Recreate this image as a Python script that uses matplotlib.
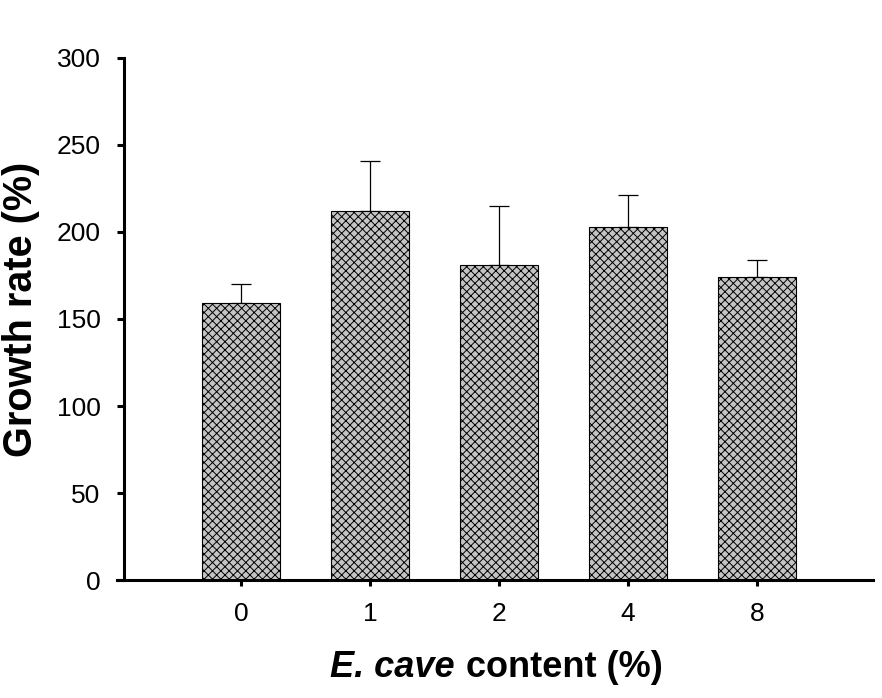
import numpy as np
import matplotlib
matplotlib.use("Agg")
import matplotlib.pyplot as plt

# data
groups = ["0", "1", "2", "4", "8"]
growth = [159, 212, 181, 203, 174]
err_up = [11, 29, 34, 18, 10]

plt.rcParams['font.family'] = ['Liberation Sans', 'DejaVu Sans']
plt.rcParams['hatch.linewidth'] = 0.7
plt.rcParams['hatch.color'] = '#303030'

fig = plt.figure(figsize=(8.82, 6.98), dpi=100)
ax = fig.add_axes([0.1327, 0.169, 0.857, 0.748])

x = np.arange(len(groups))
ax.bar(x, growth, width=0.6, color='#c4c4c4', edgecolor='black',
       linewidth=0.8, hatch='xxxx', zorder=2)
ax.errorbar(x, growth, yerr=[np.zeros(len(err_up)), err_up], fmt='none',
            ecolor='black', elinewidth=0.9, capsize=7.5, capthick=0.9, zorder=1)

ax.set_xlim(-0.961, 4.899)
ax.set_ylim(0, 300)
ax.spines['left'].set_position(('data', -0.907))
ax.spines['top'].set_visible(False)
ax.spines['right'].set_visible(False)
ax.spines['left'].set_linewidth(2.2)
ax.spines['bottom'].set_linewidth(2.2)

ax.set_xticks(x)
ax.set_xticklabels(groups)
ax.set_yticks(np.arange(0, 301, 50))
ax.tick_params(axis='y', direction='out', length=5, width=2.2, labelsize=19, pad=12)
ax.tick_params(axis='x', direction='out', length=4, width=2.2, labelsize=19, pad=12)

ax.set_ylabel("Growth rate (%)", fontsize=28.5, fontweight='bold')
ax.yaxis.set_label_coords(-0.102, 0.519)

# x label in two pieces: italic species name + plain bold rest
fig.text(455 / 882, 1 - 677 / 698, "E. cave", fontsize=26, fontweight='bold',
         style='italic', ha='right', va='baseline')
fig.text(466 / 882, 1 - 677 / 698, "content (%)", fontsize=26, fontweight='bold',
         ha='left', va='baseline')

fig.savefig("out.png", dpi=100)
